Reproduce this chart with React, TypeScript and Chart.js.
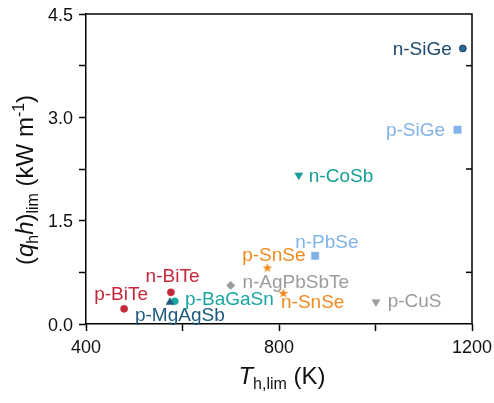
import { useEffect, useRef } from 'react';
import { Chart, registerables } from 'chart.js';

Chart.register(...registerables);

// ---- data ----
const materials = ['n-SiGe', 'p-SiGe', 'n-CoSb', 'n-PbSe', 'p-SnSe', 'n-AgPbSbTe', 'n-SnSe', 'p-CuS', 'n-BiTe', 'p-BiTe', 'p-MgAgSb', 'p-BaGaSn'];
const tHotLimit = [1181, 1170, 841, 875, 776, 700, 809, 1001, 576, 479, 574, 584];
const fluxLimit = [4.0, 2.82, 2.16, 0.99, 0.82, 0.56, 0.45, 0.32, 0.46, 0.22, 0.315, 0.33];
const xTicks = [400, 600, 800, 1000, 1200];
const xTickLabels = ['400', '', '800', '', '1200'];
const yTicks = [0, 0.75, 1.5, 2.25, 3.0, 3.75, 4.5];
const yTickLabels = ['0.0', '', '1.5', '', '3.0', '', '4.5'];

// ---- styles ----
const FONT = '"Liberation Sans", Arial, Helvetica, sans-serif';
const markerColors = ['#2a6a96', '#7fb3e5', '#159f96', '#7fb3e5', '#f08a1d', '#9b9b9b', '#f08a1d', '#9b9b9b', '#c6283b', '#c6283b', '#1c5b7e', '#1aa6a0'];
const markerBorders = ['#143a58', '#7fb3e5', '#159f96', '#7fb3e5', '#f08a1d', '#9b9b9b', '#f08a1d', '#9b9b9b', '#c6283b', '#c6283b', '#1c5b7e', '#1aa6a0'];
const textColors = ['#1d4a6c', '#7fb3e5', '#159f96', '#7fb3e5', '#f08a1d', '#9b9b9b', '#f08a1d', '#9b9b9b', '#c6283b', '#c6283b', '#1c5b7e', '#1aa6a0'];
const markerShapes = ['circle', 'rect', 'triangleDown', 'rect', 'star', 'rectRot', 'star', 'triangleDown', 'circle', 'circle', 'triangle', 'circle'];
const markerSizes = [3.4, 5.2, 4.6, 5.2, 5, 4.2, 5, 4.6, 3.6, 3.6, 4.6, 3.6];
// label placement: [align, dx, dy(baseline)]
const labelPlace: [CanvasTextAlign, number, number][] = [
  ['right', -11, 6.5],
  ['right', -12.5, 6.5],
  ['left', 10, 6.7],
  ['center', 11.7, -8.3],
  ['center', 6.4, -6.6],
  ['left', 11.7, 2.8],
  ['left', -2.3, 15],
  ['left', 11.7, 4.9],
  ['center', 1.6, -10],
  ['center', -3, -9],
  ['left', -35, 18.9],
  ['left', 10.3, 3.5],
];

function makeStar(color: string, r: number): HTMLCanvasElement {
  const size = Math.ceil(r * 2 + 2);
  const c = document.createElement('canvas');
  c.width = size;
  c.height = size;
  const ctx = c.getContext('2d')!;
  const cx = size / 2;
  const cy = size / 2 + 0.5;
  ctx.beginPath();
  for (let i = 0; i < 10; i++) {
    const rr = i % 2 === 0 ? r : r * 0.42;
    const a = -Math.PI / 2 + (i * Math.PI) / 5;
    const px = cx + rr * Math.cos(a);
    const py = cy + rr * Math.sin(a);
    if (i === 0) ctx.moveTo(px, py);
    else ctx.lineTo(px, py);
  }
  ctx.closePath();
  ctx.fillStyle = color;
  ctx.fill();
  return c;
}

const framePlugin = {
  id: 'frame',
  afterDraw(chart: any) {
    const { ctx, chartArea } = chart;
    const { left, right, top, bottom } = chartArea;
    const ys = chart.scales.y;
    ctx.save();
    ctx.strokeStyle = '#000';
    ctx.lineWidth = 1.5;
    ctx.beginPath();
    ctx.moveTo(left - 0.75, top);
    ctx.lineTo(right, top);
    ctx.lineTo(right, bottom + 0.75);
    ctx.stroke();
    // inner ticks on right axis
    [0.75, 2.25, 3.75].forEach((v) => {
      const y = ys.getPixelForValue(v);
      ctx.beginPath();
      ctx.moveTo(right, y);
      ctx.lineTo(right - 6, y);
      ctx.stroke();
    });
    ctx.restore();
  },
};

const labelPlugin = {
  id: 'pointLabels',
  afterDatasetsDraw(chart: any) {
    const ctx = chart.ctx;
    ctx.save();
    ctx.font = `19px ${FONT}`;
    ctx.textBaseline = 'alphabetic';
    chart.data.datasets.forEach((ds: any, i: number) => {
      const el = chart.getDatasetMeta(i).data[0];
      if (!el) return;
      const [align, dx, dy] = labelPlace[i];
      ctx.textAlign = align;
      ctx.fillStyle = textColors[i];
      ctx.fillText(ds.label, el.x + dx, el.y + dy);
    });
    ctx.restore();
  },
};

type Part = { t: string; size: number; italic?: boolean; dy?: number };

function drawParts(ctx: CanvasRenderingContext2D, parts: Part[], cx: number, baseY: number) {
  const fontFor = (p: Part) => `${p.italic ? 'italic ' : ''}${p.size}px ${FONT}`;
  let total = 0;
  parts.forEach((p) => {
    ctx.font = fontFor(p);
    total += ctx.measureText(p.t).width;
  });
  let x = cx - total / 2;
  ctx.textAlign = 'left';
  ctx.textBaseline = 'alphabetic';
  parts.forEach((p) => {
    ctx.font = fontFor(p);
    ctx.fillText(p.t, x, baseY + (p.dy || 0));
    x += ctx.measureText(p.t).width;
  });
}

const titlePlugin = {
  id: 'axisTitles',
  afterDraw(chart: any) {
    const ctx = chart.ctx as CanvasRenderingContext2D;
    const { left, right, top, bottom } = chart.chartArea;
    ctx.save();
    ctx.fillStyle = '#111';
    // x title
    drawParts(
      ctx,
      [
        { t: 'T', size: 24, italic: true },
        { t: 'h,lim', size: 16, dy: 5 },
        { t: ' (K)', size: 24 },
      ],
      (left + right) / 2 + 3,
      bottom + 60
    );
    // y title
    ctx.translate(33, (top + bottom) / 2 + 11);
    ctx.rotate(-Math.PI / 2);
    drawParts(
      ctx,
      [
        { t: '(', size: 24 },
        { t: 'q', size: 24, italic: true },
        { t: 'h', size: 16, dy: 5 },
        { t: 'h', size: 24, italic: true },
        { t: ')', size: 24 },
        { t: 'lim', size: 16, dy: 5 },
        { t: ' (kW m', size: 24 },
        { t: '-1', size: 16, dy: -9 },
        { t: ')', size: 24 },
      ],
      0,
      0
    );
    ctx.restore();
  },
};

// tick labels drawn by hand so they are never clipped at the canvas edges
const tickLabelPlugin = {
  id: 'tickLabels',
  afterDraw(chart: any) {
    const ctx = chart.ctx as CanvasRenderingContext2D;
    const xs = chart.scales.x;
    const ys = chart.scales.y;
    const { left, bottom } = chart.chartArea;
    ctx.save();
    ctx.fillStyle = '#111';
    ctx.font = `18px ${FONT}`;
    ctx.textAlign = 'center';
    ctx.textBaseline = 'alphabetic';
    xTicks.forEach((v, i) => {
      if (xTickLabels[i]) ctx.fillText(xTickLabels[i], xs.getPixelForValue(v), bottom + 29);
    });
    ctx.textAlign = 'right';
    yTicks.forEach((v, i) => {
      if (yTickLabels[i]) ctx.fillText(yTickLabels[i], left - 13, ys.getPixelForValue(v) + 6.5);
    });
    ctx.restore();
  },
};

function zeroPadding(scale: any) {
  scale.paddingTop = 0;
  scale.paddingBottom = 0;
  scale.paddingLeft = 0;
  scale.paddingRight = 0;
}

export default function App() {
  const ref = useRef<HTMLCanvasElement>(null);

  useEffect(() => {
    if (!ref.current) return;
    const datasets = materials.map((name, i) => {
      const shape = markerShapes[i];
      let pointStyle: any = shape;
      let rotation = 0;
      if (shape === 'triangleDown') {
        pointStyle = 'triangle';
        rotation = 180;
      }
      if (shape === 'star') pointStyle = makeStar(markerColors[i], markerSizes[i]);
      return {
        label: name,
        data: [{ x: tHotLimit[i], y: fluxLimit[i] }],
        pointStyle,
        rotation,
        pointRadius: markerSizes[i],
        pointBackgroundColor: markerColors[i],
        pointBorderColor: markerBorders[i],
        pointBorderWidth: i === 0 ? 1 : 0.5,
        showLine: false,
      };
    });

    const chart = new Chart(ref.current, {
      type: 'scatter',
      data: { datasets },
      options: {
        animation: false,
        responsive: false,
        devicePixelRatio: 1,
        layout: { padding: { top: 14, right: 22, left: 0, bottom: 0 } },
        plugins: {
          legend: { display: false },
          tooltip: { enabled: false },
        },
        scales: {
          x: {
            type: 'linear',
            min: 400,
            max: 1200,
            afterBuildTicks: (scale: any) => {
              scale.ticks = xTicks.map((v) => ({ value: v }));
            },
            afterFit: (scale: any) => {
              scale.height = 79;
              zeroPadding(scale);
            },
            ticks: { display: false },
            grid: {
              drawOnChartArea: false,
              drawTicks: true,
              tickLength: 7,
              tickColor: '#000',
              tickWidth: 1.5,
            },
            border: { display: true, color: '#000', width: 1.5 },
          },
          y: {
            type: 'linear',
            min: 0,
            max: 4.5,
            afterBuildTicks: (scale: any) => {
              scale.ticks = yTicks.map((v) => ({ value: v }));
            },
            afterFit: (scale: any) => {
              scale.width = 86;
              zeroPadding(scale);
            },
            ticks: { display: false },
            grid: {
              drawOnChartArea: false,
              drawTicks: true,
              tickLength: 7,
              tickColor: '#000',
              tickWidth: 1.5,
            },
            border: { display: true, color: '#000', width: 1.5 },
          },
        },
      },
      plugins: [framePlugin, labelPlugin, titlePlugin, tickLabelPlugin],
    });
    return () => chart.destroy();
  }, []);

  return (
    <div style={{ position: 'fixed', left: 0, top: 0, width: 494, height: 403 }}>
      <canvas ref={ref} width={494} height={403} style={{ display: 'block' }} />
    </div>
  );
}
